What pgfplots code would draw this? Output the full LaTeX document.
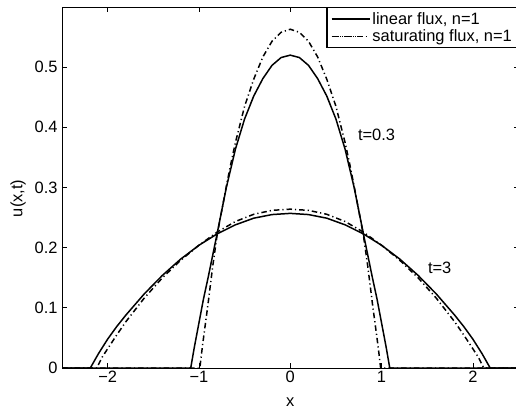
\documentclass[border=0pt]{standalone}
\usepackage{fontspec}
\setmainfont{Liberation Sans}
\usepackage{pgfplots}
\pgfplotsset{compat=1.18}

\begin{document}
\begin{tikzpicture}
\begin{axis}[
    at={(62bp,41bp)}, anchor=south west,
    scale only axis, width=456.5bp, height=361bp,
    xmin=-2.5, xmax=2.5, ymin=0, ymax=0.6,
    xtick={-2,-1,0,1,2}, xticklabels={−2,−1,0,1,2},
    ytick={0,0.1,0.2,0.3,0.4,0.5}, yticklabels={0,0.1,0.2,0.3,0.4,0.5},
    tick align=inside, major tick length=5bp,
    axis line style={line width=1pt},
    every tick/.style={black, line width=0.7pt},
    tick label style={font=\fontsize{16.5}{19}\selectfont},
    yticklabel style={xshift=-1bp},
    label style={font=\fontsize{16.5}{19}\selectfont},
    xlabel={x}, ylabel={u(x,t)},
    xlabel style={yshift=-8bp},
    ylabel style={at={(ticklabel cs:0.47)}, yshift=2bp},
    legend style={at={(1,1)}, anchor=north east, draw=black, line width=1.4pt,
        font=\fontsize{16.5}{19}\selectfont, inner xsep=4bp, inner ysep=4bp,
        row sep=3bp, nodes={inner ysep=0.5bp}, cells={anchor=west}},
    legend image code/.code={\draw[#1] (2bp,0bp) -- (27bp,0bp);
        \path (0bp,0bp) -- (38bp,0bp);},
    lin/.style={black, solid, mark=none, line width=1.5pt},
    sat/.style={black, mark=none, line width=1.5pt,
        dash pattern=on 5.5bp off 3bp on 1.2bp off 3bp},
]

% t = 0.3, linear flux
\addplot[lin] coordinates {
    (-2.5,0) (-1.09,0) (-1.05,0.035) (-1.0,0.075) (-0.95,0.115) (-0.9,0.150)
    (-0.85,0.187) (-0.8,0.224) (-0.75,0.262) (-0.7,0.300) (-0.6,0.364)
    (-0.5,0.414) (-0.4,0.452) (-0.3,0.481) (-0.2,0.503) (-0.1,0.516) (0,0.520)
    (0.1,0.516) (0.2,0.503) (0.3,0.481) (0.4,0.452) (0.5,0.414) (0.6,0.364)
    (0.7,0.300) (0.75,0.262) (0.8,0.224) (0.85,0.187) (0.9,0.150) (0.95,0.115)
    (1.0,0.075) (1.05,0.035) (1.09,0) (2.5,0)
};
\addlegendentry{linear flux, n=1}

% t = 0.3, saturating flux
\addplot[sat] coordinates {
    (-2.5,0) (-0.99,0) (-0.975,0.020) (-0.95,0.050) (-0.9,0.107) (-0.85,0.168)
    (-0.8,0.222) (-0.75,0.262) (-0.7,0.302) (-0.65,0.340) (-0.6,0.375)
    (-0.5,0.435) (-0.4,0.480) (-0.3,0.517) (-0.2,0.543) (-0.1,0.558) (0,0.563)
    (0.1,0.558) (0.2,0.543) (0.3,0.517) (0.4,0.480) (0.5,0.435) (0.6,0.375)
    (0.65,0.340) (0.7,0.302) (0.75,0.262) (0.8,0.222) (0.85,0.168) (0.9,0.107)
    (0.95,0.050) (0.975,0.020) (0.99,0) (2.5,0)
};
\addlegendentry{saturating flux, n=1}

% t = 3, linear flux
\addplot[lin, forget plot] coordinates {
    (-2.5,0) (-2.19,0) (-2.1,0.024) (-2.0,0.048) (-1.9,0.069) (-1.8,0.088)
    (-1.6,0.123) (-1.4,0.154) (-1.2,0.181) (-1.0,0.204) (-0.8,0.223)
    (-0.6,0.238) (-0.4,0.249) (-0.2,0.255) (0,0.257)
    (0.2,0.255) (0.4,0.249) (0.6,0.238) (0.8,0.223) (1.0,0.204) (1.2,0.181)
    (1.4,0.154) (1.6,0.123) (1.8,0.088) (1.9,0.069) (2.0,0.048) (2.1,0.024)
    (2.19,0) (2.5,0)
};

% t = 3, saturating flux
\addplot[sat, forget plot] coordinates {
    (-2.5,0) (-2.12,0) (-2.06,0.018) (-2.0,0.032) (-1.9,0.055) (-1.8,0.077)
    (-1.6,0.116) (-1.4,0.150) (-1.2,0.179) (-1.0,0.204) (-0.8,0.226)
    (-0.6,0.2435) (-0.4,0.2555) (-0.2,0.262) (0,0.264)
    (0.2,0.262) (0.4,0.2555) (0.6,0.2435) (0.8,0.226) (1.0,0.204) (1.2,0.179)
    (1.4,0.150) (1.6,0.116) (1.8,0.077) (1.9,0.055) (2.0,0.032) (2.06,0.018)
    (2.12,0) (2.5,0)
};

\node[font=\fontsize{16.5}{19}\selectfont] at (axis cs:0.945,0.387) {t=0.3};
\node[font=\fontsize{16.5}{19}\selectfont] at (axis cs:1.637,0.166) {t=3};
\end{axis}
\pgfresetboundingbox
\path[use as bounding box] (0,0) rectangle (516bp,409bp);
\end{tikzpicture}
\end{document}
